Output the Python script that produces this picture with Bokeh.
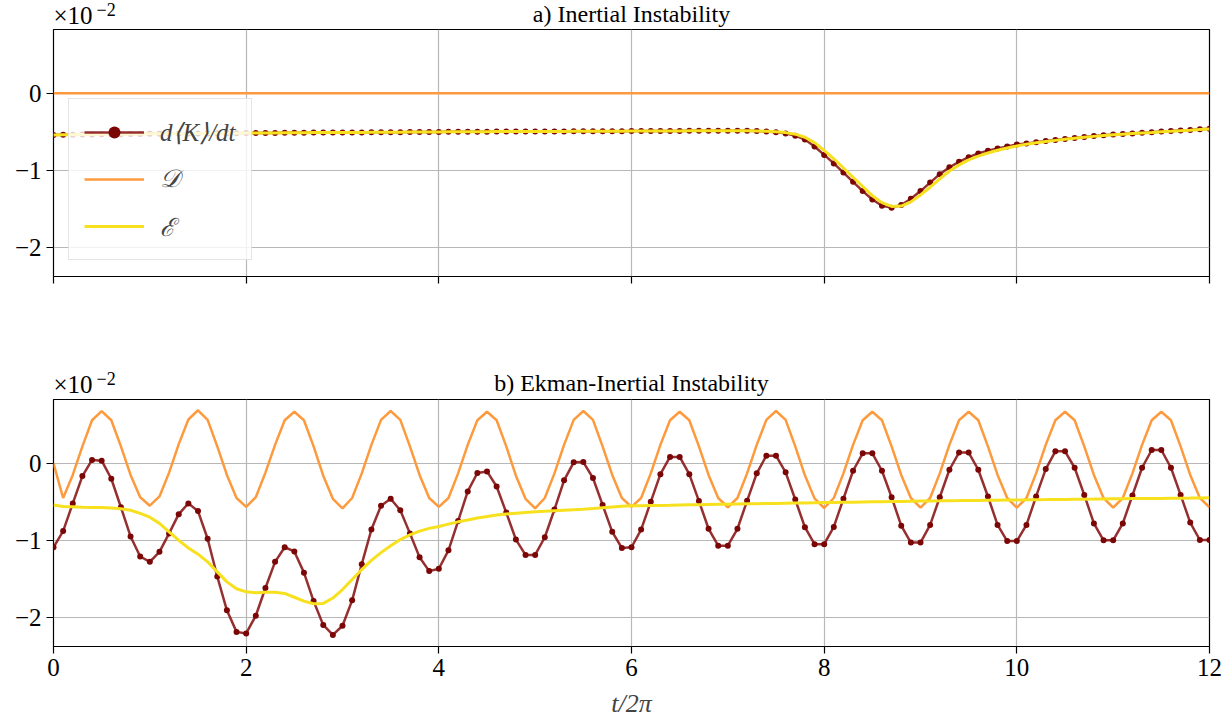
from bokeh.plotting import figure
from bokeh.models import FixedTicker, Label, Legend, LegendItem
from bokeh.layouts import column
from bokeh.embed import file_html
from bokeh.resources import INLINE

# time axis t/2pi, sampled every 0.1
t = [round(0.1 * i, 1) for i in range(121)]

# ---- panel a) Inertial Instability (units of 1e-2) ----
a_dKdt = [
    -0.540, -0.538, -0.537, -0.535, -0.534, -0.532, -0.531, -0.530, -0.528, -0.527,
    -0.526, -0.525, -0.524, -0.523, -0.522, -0.521, -0.520, -0.519, -0.518, -0.517,
    -0.516, -0.515, -0.514, -0.514, -0.513, -0.512, -0.511, -0.510, -0.510, -0.509,
    -0.508, -0.507, -0.507, -0.506, -0.505, -0.505, -0.504, -0.503, -0.502, -0.502,
    -0.501, -0.500, -0.500, -0.499, -0.499, -0.498, -0.497, -0.497, -0.496, -0.496,
    -0.495, -0.495, -0.494, -0.494, -0.493, -0.493, -0.492, -0.492, -0.491, -0.491,
    -0.490, -0.490, -0.489, -0.489, -0.488, -0.488, -0.487, -0.487, -0.487, -0.486,
    -0.486, -0.486, -0.487, -0.490, -0.496, -0.505, -0.520, -0.550, -0.600, -0.690,
    -0.800, -0.910, -1.030, -1.150, -1.270, -1.380, -1.460, -1.485, -1.450, -1.370,
    -1.270, -1.160, -1.050, -0.960, -0.890, -0.830, -0.780, -0.745, -0.715, -0.690,
    -0.665, -0.650, -0.635, -0.620, -0.605, -0.592, -0.580, -0.567, -0.555, -0.545,
    -0.535, -0.527, -0.520, -0.512, -0.505, -0.497, -0.490, -0.482, -0.475, -0.467,
    -0.460,
]
a_D = [0.0] * 121
a_E = [
    -0.540, -0.538, -0.537, -0.535, -0.534, -0.532, -0.531, -0.530, -0.528, -0.527,
    -0.526, -0.525, -0.524, -0.523, -0.522, -0.521, -0.520, -0.519, -0.518, -0.517,
    -0.516, -0.515, -0.514, -0.514, -0.513, -0.512, -0.511, -0.510, -0.510, -0.509,
    -0.508, -0.507, -0.507, -0.506, -0.505, -0.505, -0.504, -0.503, -0.502, -0.502,
    -0.501, -0.500, -0.500, -0.499, -0.499, -0.498, -0.497, -0.497, -0.496, -0.496,
    -0.495, -0.495, -0.494, -0.494, -0.493, -0.493, -0.492, -0.492, -0.491, -0.491,
    -0.490, -0.490, -0.489, -0.489, -0.488, -0.488, -0.487, -0.487, -0.487, -0.486,
    -0.486, -0.486, -0.487, -0.489, -0.493, -0.500, -0.510, -0.530, -0.570, -0.640,
    -0.740, -0.850, -0.970, -1.090, -1.210, -1.330, -1.420, -1.470, -1.465, -1.410,
    -1.320, -1.220, -1.110, -1.010, -0.930, -0.865, -0.815, -0.775, -0.740, -0.710,
    -0.685, -0.660, -0.642, -0.626, -0.611, -0.597, -0.584, -0.571, -0.559, -0.549,
    -0.539, -0.531, -0.523, -0.515, -0.508, -0.500, -0.493, -0.485, -0.478, -0.470,
    -0.463,
]

# ---- panel b) Ekman-Inertial Instability (units of 1e-2) ----
b_dKdt = [
    -1.090, -0.880, -0.520, -0.165, 0.045, 0.035, -0.200, -0.570, -0.950, -1.210,
    -1.280, -1.150, -0.910, -0.660, -0.520, -0.620, -0.980, -1.470, -1.910, -2.190,
    -2.210, -1.980, -1.620, -1.280, -1.090, -1.145, -1.420, -1.790, -2.100, -2.230,
    -2.110, -1.780, -1.310, -0.860, -0.550, -0.460, -0.610, -0.910, -1.220, -1.400,
    -1.370, -1.130, -0.750, -0.365, -0.125, -0.105, -0.300, -0.640, -0.990, -1.190,
    -1.190, -0.960, -0.600, -0.220, 0.013, 0.017, -0.190, -0.540, -0.890, -1.100,
    -1.090, -0.860, -0.500, -0.140, 0.083, 0.083, -0.140, -0.490, -0.850, -1.070,
    -1.070, -0.850, -0.487, -0.130, 0.100, 0.100, -0.117, -0.470, -0.830, -1.050,
    -1.050, -0.826, -0.460, -0.096, 0.130, 0.130, -0.096, -0.440, -0.810, -1.030,
    -1.030, -0.800, -0.440, -0.083, 0.140, 0.140, -0.083, -0.430, -0.800, -1.010,
    -1.010, -0.800, -0.430, -0.074, 0.157, 0.157, -0.057, -0.410, -0.780, -1.000,
    -1.000, -0.780, -0.417, -0.057, 0.174, 0.174, -0.057, -0.410, -0.770, -0.996,
    -0.996,
]
b_D = [
    0.000, -0.450, -0.150, 0.220, 0.560, 0.680, 0.560, 0.220, -0.150, -0.440,
    -0.550, -0.430, -0.120, 0.250, 0.570, 0.690, 0.565, 0.220, -0.150, -0.450,
    -0.565, -0.440, -0.120, 0.240, 0.560, 0.670, 0.560, 0.220, -0.160, -0.460,
    -0.585, -0.450, -0.130, 0.240, 0.565, 0.680, 0.565, 0.220, -0.150, -0.450,
    -0.565, -0.450, -0.130, 0.240, 0.560, 0.670, 0.560, 0.220, -0.160, -0.460,
    -0.585, -0.450, -0.130, 0.240, 0.565, 0.680, 0.565, 0.220, -0.150, -0.450,
    -0.565, -0.450, -0.130, 0.240, 0.560, 0.670, 0.560, 0.220, -0.150, -0.450,
    -0.570, -0.450, -0.130, 0.240, 0.565, 0.680, 0.565, 0.220, -0.155, -0.455,
    -0.580, -0.450, -0.130, 0.240, 0.560, 0.670, 0.560, 0.220, -0.150, -0.450,
    -0.575, -0.450, -0.130, 0.240, 0.560, 0.670, 0.560, 0.220, -0.150, -0.450,
    -0.575, -0.450, -0.130, 0.240, 0.560, 0.670, 0.560, 0.220, -0.150, -0.450,
    -0.575, -0.450, -0.130, 0.240, 0.560, 0.670, 0.560, 0.220, -0.150, -0.450,
    -0.570,
]
b_E = [
    -0.540, -0.560, -0.565, -0.570, -0.572, -0.575, -0.580, -0.590, -0.610, -0.650,
    -0.700, -0.780, -0.890, -1.000, -1.100, -1.180, -1.280, -1.410, -1.540, -1.630,
    -1.670, -1.680, -1.675, -1.675, -1.690, -1.740, -1.790, -1.825, -1.820, -1.750,
    -1.640, -1.510, -1.380, -1.260, -1.160, -1.070, -0.990, -0.930, -0.880, -0.845,
    -0.820, -0.790, -0.760, -0.735, -0.710, -0.690, -0.672, -0.658, -0.647, -0.638,
    -0.630, -0.622, -0.615, -0.608, -0.602, -0.596, -0.588, -0.578, -0.568, -0.558,
    -0.552, -0.550, -0.548, -0.546, -0.544, -0.541, -0.539, -0.537, -0.534, -0.532,
    -0.530, -0.528, -0.526, -0.524, -0.522, -0.520, -0.518, -0.516, -0.514, -0.512,
    -0.510, -0.508, -0.506, -0.504, -0.502, -0.500, -0.498, -0.496, -0.494, -0.492,
    -0.490, -0.488, -0.487, -0.485, -0.484, -0.482, -0.481, -0.479, -0.478, -0.476,
    -0.475, -0.474, -0.472, -0.471, -0.469, -0.468, -0.466, -0.465, -0.464, -0.462,
    -0.461, -0.460, -0.458, -0.457, -0.456, -0.455, -0.453, -0.452, -0.451, -0.449,
    -0.448,
]

x_ticks = [0, 2, 4, 6, 8, 10, 12]
y_ticks = [-2, -1, 0]
y_tick_labels = {-2: "\u22122", -1: "\u22121", 0: "0"}
titles = ["a) Inertial Instability", "b) Ekman-Inertial Instability"]
labels = ["d\u27e8K\u27e9/dt", "\U0001D49F", "\u2130"]

C_K = "#8b1a1a"
C_KM = "#7a0606"
C_D = "#fd9a3d"
C_E = "#f7e11f"
SERIF = "Liberation Serif"
FW, FH = 1156, 247
LEFT, RIGHT = 53, 15


def make_header(h, title):
    # strip above a panel that carries its title and the x10^-2 offset text
    hd = figure(frame_width=FW, frame_height=h, x_range=(0, 1), y_range=(0, 1),
                min_border_left=LEFT, min_border_right=RIGHT, min_border_top=0,
                min_border_bottom=0, x_axis_type=None, y_axis_type=None,
                output_backend="svg", toolbar_location=None)
    hd.outline_line_color = None
    hd.grid.visible = False
    hd.add_layout(Label(x=FW / 2, y=h - 13, x_units="screen", y_units="screen", text=title,
                        text_align="center", text_baseline="middle", text_font=SERIF,
                        text_font_size="24px", text_color="black"))
    hd.add_layout(Label(x=0, y=h - 15, x_units="screen", y_units="screen", text="\u00d710",
                        text_align="left", text_baseline="middle", text_font=SERIF,
                        text_font_size="25px", text_color="black"))
    hd.add_layout(Label(x=43, y=h - 9, x_units="screen", y_units="screen", text="\u22122",
                        text_align="left", text_baseline="middle", text_font=SERIF,
                        text_font_size="18px", text_color="black"))
    return hd


def make_fig(bottom, show_x):
    p = figure(frame_width=FW, frame_height=FH, x_range=(0, 12), y_range=(-2.38, 0.83),
               min_border_left=LEFT, min_border_right=RIGHT, min_border_top=0,
               min_border_bottom=bottom, output_backend="svg", toolbar_location=None)
    p.outline_line_color = "black"
    p.outline_line_width = 1.2
    p.background_fill_color = "white"
    p.border_fill_color = "white"
    p.xaxis.ticker = FixedTicker(ticks=x_ticks)
    p.yaxis.ticker = FixedTicker(ticks=y_ticks)
    p.yaxis.major_label_overrides = y_tick_labels
    p.axis.axis_line_color = None
    p.axis.major_tick_in = 0
    p.axis.major_tick_out = 7
    p.axis.major_tick_line_color = "black"
    p.axis.major_tick_line_width = 1.2
    p.axis.minor_tick_line_color = None
    p.axis.major_label_text_font = SERIF
    p.axis.major_label_text_font_size = "25px"
    p.axis.major_label_text_color = "black"
    p.axis.major_label_standoff = 5
    p.grid.grid_line_color = "#b8b8b8"
    p.grid.grid_line_width = 1.2
    if not show_x:
        p.xaxis.major_label_overrides = {k: "" for k in x_ticks}
    else:
        p.xaxis.axis_label = "t/2\u03c0"
        p.xaxis.axis_label_text_font = SERIF
        p.xaxis.axis_label_text_font_style = "italic"
        p.xaxis.axis_label_text_font_size = "26px"
        p.xaxis.axis_label_standoff = 10
    return p


def draw(p, k, d, e):
    rk = p.line(t, k, line_color=C_K, line_width=2.5, line_alpha=0.9)
    sk = p.scatter(t, k, size=6, fill_color=C_KM, line_color=None)
    rd = p.line(t, d, line_color=C_D, line_width=2.5)
    re = p.line(t, e, line_color=C_E, line_width=3)
    return rk, sk, rd, re


h1 = make_header(29, titles[0])
p1 = make_fig(93, False)
rk, sk, rd, re = draw(p1, a_dKdt, a_D, a_E)
legend = Legend(items=[LegendItem(label=labels[0], renderers=[rk, sk]),
                       LegendItem(label=labels[1], renderers=[rd]),
                       LegendItem(label=labels[2], renderers=[re])],
                location=(15, 16))
legend.background_fill_color = "white"
legend.background_fill_alpha = 0.8
legend.border_line_color = "#cccccc"
legend.border_line_width = 1
legend.label_text_font = SERIF
legend.label_text_font_style = "italic"
legend.label_text_font_size = "25px"
legend.glyph_width = 60
legend.glyph_height = 30
legend.label_height = 36
legend.spacing = 11
legend.padding = 15
legend.margin = 0
legend.label_standoff = 16
p1.add_layout(legend)

h2 = make_header(30, titles[1])
p2 = make_fig(70, True)
draw(p2, b_dKdt, b_D, b_E)

layout = column(h1, p1, h2, p2, spacing=0)
open("out.html", "w").write(file_html(layout, INLINE))
